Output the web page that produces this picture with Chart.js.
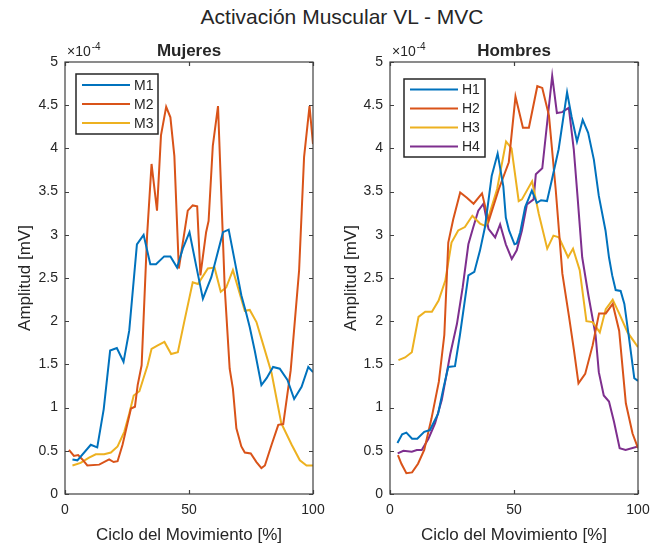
<!DOCTYPE html>
<html>
<head>
<meta charset="utf-8">
<script src="https://cdn.jsdelivr.net/npm/chart.js@4.4.1/dist/chart.umd.min.js"></script>
<style>
  body { margin: 0; background: #fff; }
  #wrap { position: relative; width: 653px; height: 548px; overflow: hidden; }
  #titulo { position: absolute; left: 0; top: 5px; width: 684px; text-align: center;
            font: 21px 'Liberation Sans', Arial, sans-serif; color: #262626; }
  canvas { position: absolute; top: 0; }
</style>
</head>
<body>
<div id="wrap">
  <div id="titulo">Activación Muscular VL - MVC</div>
  <canvas id="mujeres" width="326" height="548" style="left:0"></canvas>
  <canvas id="hombres" width="327" height="548" style="left:326px"></canvas>
</div>
<script>
// amplitudes en unidades de 1e-4 mV, ciclo en %
const m1Ciclo = [3, 5, 10.4, 13, 15.6, 18.2, 20.9, 23.6, 25.9, 29, 31.7, 34.4, 36.7, 40, 42.5, 45.2, 47.5, 50.2, 52.9, 55.6, 59, 63.7, 66, 71.1, 73.1, 74.5, 76.5, 79.2, 81.3, 83.9, 86.6, 89.7, 92.4, 95.4, 98.1, 100];
const m1Amp   = [0.40, 0.39, 0.57, 0.54, 0.98, 1.66, 1.69, 1.53, 1.89, 2.89, 3.00, 2.66, 2.66, 2.75, 2.75, 2.62, 2.84, 3.03, 2.64, 2.26, 2.51, 3.03, 3.06, 2.30, 2.09, 1.93, 1.66, 1.26, 1.34, 1.47, 1.45, 1.32, 1.10, 1.24, 1.47, 1.41];

const m2Ciclo = [1.6, 3.6, 5.3, 7, 9, 13.8, 17.8, 19.6, 21.2, 23.2, 26.6, 28.2, 29.3, 30.9, 33.1, 34.9, 37.1, 38.7, 40.8, 42.5, 44.1, 45.9, 49.5, 51.5, 53.3, 54.6, 56.9, 57.9, 59.6, 61.7, 64.4, 66.4, 67.7, 69.1, 71.1, 72.5, 74.9, 77.2, 79.2, 80.6, 83.3, 86, 88, 91, 94.4, 96.4, 98.6, 100];
const m2Amp   = [0.51, 0.44, 0.45, 0.40, 0.33, 0.34, 0.40, 0.37, 0.38, 0.57, 0.99, 1.01, 1.26, 1.49, 2.99, 3.82, 3.28, 4.15, 4.48, 4.36, 3.91, 2.61, 3.28, 3.34, 3.33, 2.53, 3.03, 3.16, 4.03, 4.49, 2.39, 1.45, 1.22, 0.76, 0.55, 0.48, 0.47, 0.37, 0.30, 0.33, 0.57, 0.80, 0.81, 1.43, 2.59, 3.90, 4.49, 4.05];

const m3Ciclo = [3, 6.3, 9.7, 12.4, 15.8, 18.5, 21.2, 23.9, 25.9, 27.7, 30, 33.3, 34.9, 37.4, 40.1, 42.8, 45.5, 48.2, 51.5, 53.6, 57.6, 60.3, 62.8, 65, 67.7, 72.5, 74.5, 77.2, 80, 83.3, 87.2, 91.4, 94.7, 97.4, 100];
const m3Amp   = [0.33, 0.36, 0.42, 0.46, 0.46, 0.48, 0.55, 0.72, 0.93, 1.14, 1.19, 1.49, 1.68, 1.72, 1.76, 1.62, 1.64, 2.01, 2.45, 2.43, 2.61, 2.62, 2.34, 2.39, 2.59, 2.12, 2.13, 1.99, 1.72, 1.40, 0.82, 0.57, 0.39, 0.33, 0.33];

const h1Ciclo = [3, 4.9, 6.6, 8.9, 11, 13.8, 16.1, 19.4, 21.5, 23.5, 26.2, 28.2, 31.6, 34, 36.3, 38.3, 41, 43.4, 45.7, 46.7, 48, 50.2, 51.1, 52.5, 54.5, 57.2, 59.2, 60.9, 63.3, 65.3, 68, 71.4, 73.2, 75.4, 77.7, 79.9, 82.2, 84.2, 86.9, 88.3, 89.6, 91, 93, 94.5, 96.4, 98.5, 100];
const h1Amp   = [0.59, 0.69, 0.71, 0.64, 0.64, 0.72, 0.74, 0.93, 1.22, 1.47, 1.48, 1.84, 2.53, 2.57, 2.82, 3.09, 3.68, 3.94, 3.56, 3.20, 3.05, 2.89, 2.90, 3.03, 3.32, 3.51, 3.37, 3.40, 3.39, 3.64, 3.99, 4.65, 4.37, 4.08, 4.33, 4.18, 3.87, 3.45, 3.05, 2.74, 2.53, 2.36, 2.35, 2.20, 1.80, 1.34, 1.31];

const h2Ciclo = [3.2, 4.6, 6.6, 8.9, 11.3, 13.8, 16.7, 19.7, 21.9, 23.5, 25.5, 28.3, 31, 33.7, 37.1, 39.8, 43.9, 47.9, 50.6, 53.6, 56, 59.4, 61.4, 64.1, 66.8, 69.5, 72.2, 74.2, 76, 78.7, 81.7, 84.3, 87, 89.8, 92.4, 95.1, 97.8, 100];
const h2Amp   = [0.45, 0.35, 0.24, 0.25, 0.35, 0.51, 0.87, 1.30, 1.84, 2.91, 3.18, 3.49, 3.43, 3.36, 3.48, 3.16, 3.53, 3.84, 4.60, 4.24, 4.24, 4.72, 4.70, 4.38, 3.53, 2.55, 2.05, 1.66, 1.28, 1.39, 1.72, 2.09, 2.09, 2.20, 1.89, 1.05, 0.70, 0.53];

const h3Ciclo = [3.4, 6.1, 8.8, 11.5, 14.2, 16.9, 19.6, 22.3, 24.8, 27.5, 30.2, 33.2, 36.3, 38.6, 43.2, 46.8, 49, 51.9, 53.2, 57.3, 60, 63.4, 65.9, 68.1, 71.8, 73.8, 76.5, 79.2, 81.7, 84.6, 87, 89.8, 92.4, 95.8, 98.5, 100];
const h3Amp   = [1.55, 1.58, 1.64, 2.05, 2.11, 2.11, 2.24, 2.47, 2.91, 3.05, 3.09, 3.22, 3.13, 3.10, 3.53, 4.08, 4.00, 3.39, 3.41, 3.62, 3.24, 2.84, 2.99, 2.97, 2.74, 2.84, 2.59, 2.00, 1.99, 1.87, 2.14, 2.25, 2.09, 1.87, 1.76, 1.70];

const h4Ciclo = [3.1, 5.4, 8.8, 10.8, 12.8, 15.5, 18.2, 20.9, 24.3, 27, 29.3, 31.6, 33.6, 35.6, 37.7, 39.7, 42.4, 44.4, 46.7, 49.1, 51.1, 53.2, 55.2, 57.9, 58.8, 61.4, 65.4, 67.3, 69.4, 72.1, 74.1, 75.6, 77.5, 80, 82.9, 84.2, 86.2, 88.3, 90.3, 92.6, 95, 100];
const h4Amp   = [0.47, 0.50, 0.49, 0.51, 0.51, 0.64, 0.82, 1.09, 1.62, 1.97, 2.39, 2.89, 3.09, 3.28, 3.36, 3.07, 2.97, 3.12, 2.89, 2.72, 2.82, 3.05, 3.35, 3.41, 3.70, 3.77, 4.84, 4.41, 4.42, 4.47, 3.99, 3.45, 2.74, 2.30, 1.84, 1.41, 1.14, 1.07, 0.84, 0.53, 0.51, 0.55];

const xTicks = [0, 50, 100];
const yTicks = [0, 0.5, 1, 1.5, 2, 2.5, 3, 3.5, 4, 4.5, 5];

const FUENTE = "'Liberation Sans', Arial, Helvetica, sans-serif";
const TEXTO = '#262626';
const EJE = '#404040';
const COLORES = ['#0072BD', '#D95319', '#EDB120', '#7E2F8E'];

// caja, marcas interiores, exponente, subtitulo y leyenda al estilo MATLAB
const estiloMatlab = {
  id: 'estiloMatlab',
  afterDatasetsDraw(chart, args, opts) {
    const { ctx, chartArea: a, scales } = chart;
    ctx.save();
    ctx.strokeStyle = EJE;
    ctx.lineWidth = 1.2;
    ctx.beginPath();
    yTicks.forEach(v => {
      const py = Math.round(scales.y.getPixelForValue(v)) + 0.5;
      ctx.moveTo(a.left, py); ctx.lineTo(a.left + 4, py);
      ctx.moveTo(a.right, py); ctx.lineTo(a.right - 4, py);
    });
    xTicks.forEach(v => {
      const px = Math.round(scales.x.getPixelForValue(v)) + 0.5;
      ctx.moveTo(px, a.bottom); ctx.lineTo(px, a.bottom - 4);
      ctx.moveTo(px, a.top); ctx.lineTo(px, a.top + 4);
    });
    ctx.stroke();
    ctx.strokeRect(a.left, a.top, a.right - a.left, a.bottom - a.top);

    // exponente x10^-4
    ctx.fillStyle = TEXTO;
    ctx.textBaseline = 'alphabetic';
    ctx.textAlign = 'left';
    ctx.font = '14px ' + FUENTE;
    const ex = a.left + 2, ey = a.top - 6;
    ctx.fillText('\u00d710', ex, ey);
    const w = ctx.measureText('\u00d710').width;
    ctx.font = '10px ' + FUENTE;
    ctx.fillText('-4', ex + w + 1, ey - 6);

    // subtitulo
    ctx.font = 'bold 17px ' + FUENTE;
    ctx.textAlign = 'center';
    ctx.fillText(opts.subtitulo, (a.left + a.right) / 2, a.top - 6);

    // leyenda
    const L = opts.leyenda;
    const sets = chart.data.datasets;
    const bx = a.left + L.dx, by = a.top + L.dy;
    const bh = L.pad * 2 + L.fila * (sets.length - 1);
    ctx.fillStyle = '#fff';
    ctx.fillRect(bx, by, L.ancho, bh);
    ctx.lineWidth = 1.5;
    ctx.strokeStyle = '#262626';
    ctx.strokeRect(bx, by, L.ancho, bh);
    ctx.font = '14px ' + FUENTE;
    ctx.textAlign = 'left';
    ctx.textBaseline = 'middle';
    sets.forEach((d, i) => {
      const yy = by + L.pad + i * L.fila;
      ctx.strokeStyle = d.borderColor;
      ctx.lineWidth = 2;
      ctx.beginPath();
      ctx.moveTo(bx + 6, yy); ctx.lineTo(bx + 54, yy);
      ctx.stroke();
      ctx.fillStyle = TEXTO;
      ctx.fillText(d.label, bx + 58, yy + 1);
    });
    ctx.restore();
  }
};

function serie(label, xs, ys, color) {
  return {
    label,
    data: xs.map((x, i) => ({ x, y: ys[i] })),
    borderColor: color,
    backgroundColor: color,
    borderWidth: 2,
    pointRadius: 0,
    tension: 0,
    fill: false
  };
}

function crearPanel(id, subtitulo, datasets, anchoY, padDer, leyenda) {
  const ctx = document.getElementById(id).getContext('2d');
  return new Chart(ctx, {
    type: 'line',
    data: { datasets },
    options: {
      responsive: false,
      animation: false,
      devicePixelRatio: 1,
      layout: { padding: { top: 62, right: padDer, bottom: 0, left: 0 } },
      plugins: {
        legend: { display: false },
        tooltip: { enabled: false },
        estiloMatlab: { subtitulo, leyenda }
      },
      scales: {
        x: {
          type: 'linear',
          min: 0,
          max: 100,
          afterBuildTicks: s => { s.ticks = xTicks.map(v => ({ value: v })); },
          afterFit: s => { s.height = 54; s.paddingLeft = 0; s.paddingRight = 0; },
          grid: { display: false, drawTicks: false },
          border: { display: false },
          ticks: { color: TEXTO, font: { family: FUENTE, size: 14 }, padding: 8, maxRotation: 0 },
          title: { display: true, text: 'Ciclo del Movimiento [%]', color: TEXTO,
                   font: { family: FUENTE, size: 17 }, padding: { top: 0, bottom: 2 } }
        },
        y: {
          min: 0,
          max: 5,
          afterBuildTicks: s => { s.ticks = yTicks.map(v => ({ value: v })); },
          afterFit: s => { s.width = anchoY; s.paddingTop = 0; s.paddingBottom = 0; },
          grid: { display: false, drawTicks: false },
          border: { display: false },
          ticks: { color: TEXTO, font: { family: FUENTE, size: 14 }, padding: 7,
                   callback: v => String(v) },
          title: { display: true, text: 'Amplitud [mV]', color: TEXTO,
                   font: { family: FUENTE, size: 17 }, padding: { top: 15, bottom: 0 } }
        }
      }
    },
    plugins: [estiloMatlab]
  });
}

crearPanel('mujeres', 'Mujeres', [
  serie('M1', m1Ciclo, m1Amp, COLORES[0]),
  serie('M2', m2Ciclo, m2Amp, COLORES[1]),
  serie('M3', m3Ciclo, m3Amp, COLORES[2])
], 65, 13, { dx: 11, dy: 12, ancho: 82, pad: 11, fila: 19 });

crearPanel('hombres', 'Hombres', [
  serie('H1', h1Ciclo, h1Amp, COLORES[0]),
  serie('H2', h2Ciclo, h2Amp, COLORES[1]),
  serie('H3', h3Ciclo, h3Amp, COLORES[2]),
  serie('H4', h4Ciclo, h4Amp, COLORES[3])
], 64, 15, { dx: 14, dy: 17, ancho: 81, pad: 10.5, fila: 19 });
</script>
</body>
</html>
